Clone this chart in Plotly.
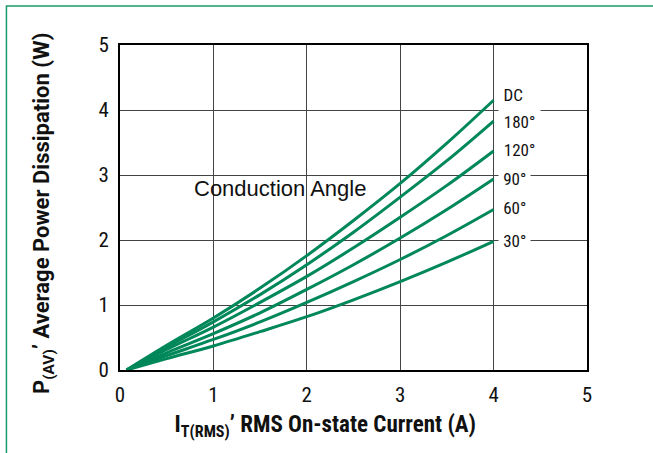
import plotly.graph_objects as go

# Data
current = [0.07, 0.5, 1.0, 1.5, 2.0, 2.5, 3.0, 3.5, 4.0]
series_names = ["DC", "180°", "120°", "90°", "60°", "30°"]
p_dc   = [0, 0.38, 0.80, 1.26, 1.76, 2.30, 2.87, 3.49, 4.15]
p_180  = [0, 0.35, 0.74, 1.16, 1.62, 2.12, 2.66, 3.22, 3.83]
p_120  = [0, 0.315, 0.66, 1.04, 1.44, 1.88, 2.35, 2.84, 3.37]
p_90   = [0, 0.265, 0.56, 0.88, 1.24, 1.62, 2.03, 2.47, 2.94]
p_60   = [0, 0.22, 0.47, 0.74, 1.04, 1.36, 1.70, 2.07, 2.47]
p_30   = [0, 0.175, 0.37, 0.59, 0.82, 1.08, 1.36, 1.66, 1.98]
series_values = [p_dc, p_180, p_120, p_90, p_60, p_30]
label_y = [4.23, 3.82, 3.38, 2.94, 2.49, 1.98]
tick_vals = [0, 1, 2, 3, 4, 5]

GREEN = "#00875a"
NARROW = "Roboto, sans-serif"
SEMI = "Roboto Semi, Roboto, sans-serif"

fig = go.Figure()
for name, vals in zip(series_names, series_values):
    fig.add_trace(go.Scatter(x=current, y=vals, mode="lines", name=name,
                             line=dict(color=GREEN, width=3, shape="spline"),
                             showlegend=False, hoverinfo="skip"))

for name, ly in zip(series_names, label_y):
    fig.add_annotation(x=4.05, y=ly, xref="x", yref="y", text=name,
                       showarrow=False, xanchor="left", yanchor="middle",
                       bgcolor="white", borderpad=3,
                       font=dict(family=NARROW, size=17, color="#111"))

fig.add_annotation(x=1.71, y=2.79, xref="x", yref="y", text="Conduction Angle",
                   showarrow=False, xanchor="center", yanchor="middle",
                   font=dict(family="Liberation Sans, Arial, sans-serif", size=22, color="#111"))

# axis titles
fig.add_annotation(x=(325 - 120) / 466.7, y=(370 - 426) / 325, xref="paper", yref="paper",
                   text="<b>I<sub>T(RMS)</sub>’ RMS On-state Current (A)</b>",
                   showarrow=False, xanchor="center", yanchor="middle",
                   font=dict(family=NARROW, size=23, color="#111"))
fig.add_annotation(x=(43 - 120) / 466.7, y=(370 - 213) / 325, xref="paper", yref="paper",
                   text="<b>P<sub>(AV)</sub>’ Average Power Dissipation (W)</b>",
                   textangle=-90, showarrow=False, xanchor="center", yanchor="middle",
                   font=dict(family=SEMI, size=22, color="#111"))

# green frame
fig.add_shape(type="rect", xref="paper", yref="paper",
              x0=(6.5 - 120) / 466.7, x1=(670 - 120) / 466.7,
              y0=(370 - 470) / 325, y1=(370 - 6) / 325,
              line=dict(color="#1a9a6a", width=1.5), fillcolor="rgba(0,0,0,0)", layer="below")

axis_common = dict(range=[0, 5], tickvals=tick_vals, showgrid=True, gridcolor="#444",
                   gridwidth=1, showline=True, linecolor="black", linewidth=2, mirror=True,
                   zeroline=False, ticks="", ticklabelstandoff=5,
                   tickfont=dict(family=NARROW, size=21, color="#111"))
fig.update_xaxes(**axis_common)
fig.update_yaxes(**axis_common)

fig.update_layout(width=653, height=453, margin=dict(l=120, r=66, t=45, b=83),
                  plot_bgcolor="white", paper_bgcolor="white")

post = """
document.body.style.margin = '0';
document.querySelectorAll('text').forEach(function(t){
  var f = t.style.fontFamily || '';
  if (f.indexOf('Roboto Semi') >= 0) { t.style.fontStretch = '90%'; }
  else if (f.indexOf('Roboto') >= 0) { t.style.fontStretch = '75%'; }
});
"""
fig.write_html("out.html", post_script=post, config={"displayModeBar": False})
